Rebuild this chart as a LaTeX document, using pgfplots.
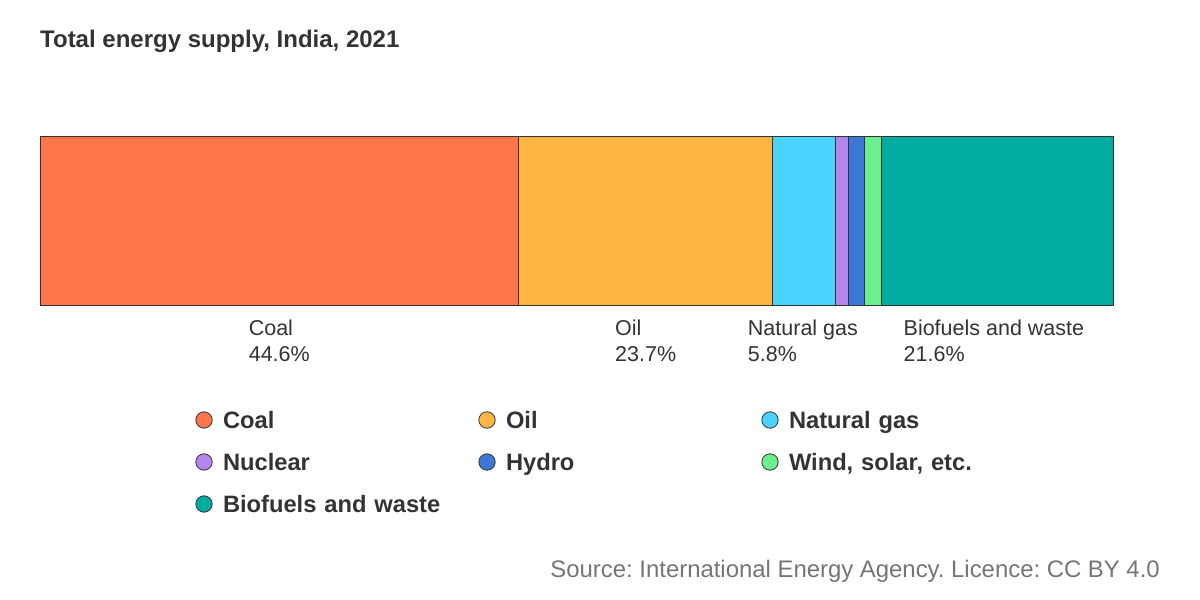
\documentclass[border=0pt]{standalone}
\usepackage{pgfplots}
\pgfplotsset{compat=1.18}
\usepackage{fontspec}
\setmainfont{Liberation Sans}
\definecolor{coalc}{HTML}{FF764B}
\definecolor{oilc}{HTML}{FFB443}
\definecolor{gasc}{HTML}{4BD3FF}
\definecolor{nucc}{HTML}{B386EE}
\definecolor{hydc}{HTML}{3D78D6}
\definecolor{windc}{HTML}{6AF08F}
\definecolor{bioc}{HTML}{00AC9F}
\definecolor{txt}{HTML}{333333}
\definecolor{srcc}{HTML}{757575}
\definecolor{edge}{HTML}{333333}
\tikzset{lbl/.style={anchor=north, yshift=-15pt, align=left, inner sep=0pt, text=txt, font=\fontsize{21.5}{25.5}\selectfont}}
\begin{document}
\frenchspacing
\begin{tikzpicture}[x=1pt,y=1pt]
\path[use as bounding box] (0,0) rectangle (1200,600);
\node[anchor=base west, inner sep=0pt, text=txt, font=\fontsize{24}{28}\selectfont\bfseries] at (40,552.5) {Total energy supply, India, 2021};
\begin{axis}[
  at={(40pt,295pt)}, anchor=south west, scale only axis,
  width=1073pt, height=168pt,
  xbar stacked, bar width=168pt, hide axis, clip=false,
  xmin=0, xmax=100, ymin=-0.5, ymax=0.5,
  legend columns=3, legend cell align=left,
  legend style={draw=none, fill=none, inner sep=0pt, outer sep=0pt,
     at={(0.14483,-0.625)}, anchor=north west, row sep=22pt,
     font=\fontsize{23.7}{28}\selectfont\bfseries, text=txt,
     /tikz/every odd column/.append style={column sep=10.4pt},
     /tikz/every even column/.append style={column sep=15.4pt},
     nodes={inner sep=0pt, text width=240pt, align=left, text height=18pt, text depth=2pt}},
]
\addplot[fill=coalc, draw=edge, line width=1pt,
  legend image code/.code={\draw[fill=coalc,draw=edge,line width=0.8pt] (0pt,0pt) circle (8.2pt);}]
  coordinates {(44.6,0)};
\addlegendentry{Coal}
\addplot[fill=oilc, draw=edge, line width=1pt,
  legend image code/.code={\draw[fill=oilc,draw=edge,line width=0.8pt] (0pt,0pt) circle (8.2pt);}]
  coordinates {(23.7,0)};
\addlegendentry{Oil}
\addplot[fill=gasc, draw=edge, line width=1pt,
  legend image code/.code={\draw[fill=gasc,draw=edge,line width=0.8pt] (0pt,0pt) circle (8.2pt);}]
  coordinates {(5.8,0)};
\addlegendentry{Natural gas}
\addplot[fill=nucc, draw=edge, line width=1pt,
  legend image code/.code={\draw[fill=nucc,draw=edge,line width=0.8pt] (0pt,0pt) circle (8.2pt);}]
  coordinates {(1.25,0)};
\addlegendentry{Nuclear}
\addplot[fill=hydc, draw=edge, line width=1pt,
  legend image code/.code={\draw[fill=hydc,draw=edge,line width=0.8pt] (0pt,0pt) circle (8.2pt);}]
  coordinates {(1.45,0)};
\addlegendentry{Hydro}
\addplot[fill=windc, draw=edge, line width=1pt,
  legend image code/.code={\draw[fill=windc,draw=edge,line width=0.8pt] (0pt,0pt) circle (8.2pt);}]
  coordinates {(1.6,0)};
\addlegendentry{Wind, solar, etc.}
\addplot[fill=bioc, draw=edge, line width=1pt,
  legend image code/.code={\draw[fill=bioc,draw=edge,line width=0.8pt] (0pt,0pt) circle (8.2pt);}]
  coordinates {(21.6,0)};
\addlegendentry{Biofuels and waste}
\node[lbl] at (axis cs:22.3,-0.5) {Coal\\44.6\%};
\node[lbl] at (axis cs:56.45,-0.5) {Oil\\23.7\%};
\node[lbl] at (axis cs:71.1,-0.5) {Natural gas\\5.8\%};
\node[lbl] at (axis cs:88.9,-0.5) {Biofuels and waste\\21.6\%};
\end{axis}
\node[anchor=base east, inner sep=0pt, text=srcc, font=\fontsize{23.9}{28}\selectfont] at (1160,22) {Source: International Energy Agency. Licence: CC BY 4.0};
\end{tikzpicture}
\end{document}
